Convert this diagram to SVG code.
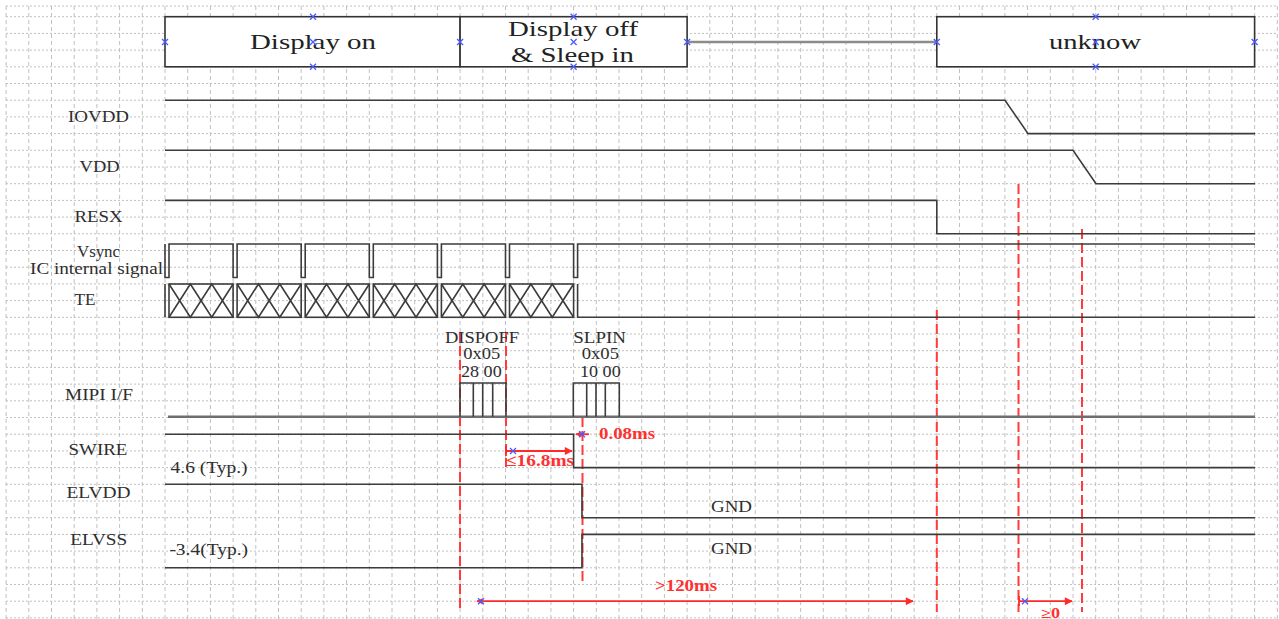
<svg xmlns="http://www.w3.org/2000/svg" xmlns:xlink="http://www.w3.org/1999/xlink" width="1279" height="619" viewBox="0 0 1279 619">
<style>
.gh{fill:none;stroke:#c0c0c0;stroke-width:1;stroke-dasharray:2 2}
.gv{fill:none;stroke:#c0c0c0;stroke-width:1;stroke-dasharray:4 3}
.sig{fill:none;stroke:#3c3c3c;stroke-width:1.6}
.box{fill:#fff;stroke:#333;stroke-width:1.6}
.hd{font-family:"Liberation Serif","Times New Roman",serif;font-size:22px;fill:#222}
.lb{font-family:"Liberation Serif","Times New Roman",serif;font-size:16px;fill:#2e2e2e}
.rt{font-family:"Liberation Serif","Times New Roman",serif;font-size:16px;font-weight:bold;fill:#ff3030}
.rd{fill:none;stroke:#ff3b3b;stroke-width:2;stroke-dasharray:10 4}
.ra{fill:none;stroke:#ff2a2a;stroke-width:1.8}
.bx{fill:none;stroke:#4a5cff;stroke-width:1.3}
</style>
<defs>
<path id="bx" class="bx" d="M-3,-3L3,3M-3,3L3,-3"/>
<g id="tecell">
<rect x="0" y="0" width="64.1" height="33.3" class="sig"/>
<path class="sig" d="M0,0L21.37,33.3L42.73,0L64.1,33.3M0,33.3L21.37,0L42.73,33.3L64.1,0"/>
</g>
<marker id="ah" viewBox="0 0 10 10" refX="9" refY="5" markerWidth="10" markerHeight="8" markerUnits="userSpaceOnUse" orient="auto">
<path d="M0,0L10,5L0,10z" fill="#ff2a2a"/>
</marker>
<marker id="ahs" viewBox="0 0 10 10" refX="1" refY="5" markerWidth="7" markerHeight="6" markerUnits="userSpaceOnUse" orient="auto">
<path d="M10,0L0,5L10,10z" fill="#ff2a2a"/>
</marker>
</defs>
<rect width="1279" height="619" fill="#fff"/>
<g id="grid">
<path class="gh" d="M6 6H1277M6 16.7H1277M6 33.4H1277M6 50.1H1277M6 66.8H1277M6 83.5H1277M6 100.2H1277M6 116.9H1277M6 133.6H1277M6 150.3H1277M6 167H1277M6 183.7H1277M6 200.4H1277M6 217.1H1277M6 233.8H1277M6 250.5H1277M6 267.2H1277M6 283.9H1277M6 300.6H1277M6 317.3H1277M6 334H1277M6 350.7H1277M6 367.4H1277M6 384.1H1277M6 400.8H1277M6 417.5H1277M6 434.2H1277M6 450.9H1277M6 467.6H1277M6 484.3H1277M6 501H1277M6 517.7H1277M6 534.4H1277M6 551.1H1277M6 567.8H1277M6 584.5H1277M6 601.2H1277M6 617.9H1277"/>
<path class="gv" d="M6.1 6V619M28.8 6V619M51.5 6V619M74.2 6V619M96.9 6V619M119.6 6V619M142.3 6V619M165 6V619M187.7 6V619M210.4 6V619M233.1 6V619M255.8 6V619M278.5 6V619M301.2 6V619M323.9 6V619M346.6 6V619M369.3 6V619M392 6V619M414.7 6V619M437.4 6V619M460.1 6V619M482.8 6V619M505.5 6V619M528.2 6V619M550.9 6V619M573.6 6V619M596.3 6V619M619 6V619M641.7 6V619M664.4 6V619M687.1 6V619M709.8 6V619M732.5 6V619M755.2 6V619M777.9 6V619M800.6 6V619M823.3 6V619M846 6V619M868.7 6V619M891.4 6V619M914.1 6V619M936.8 6V619M959.5 6V619M982.2 6V619M1004.9 6V619M1027.6 6V619M1050.3 6V619M1073 6V619M1095.7 6V619M1118.4 6V619M1141.1 6V619M1163.8 6V619M1186.5 6V619M1209.2 6V619M1231.9 6V619M1254.6 6V619M1277.3 6V619"/>
</g>
<g id="connectors">
<path d="M687 42H936.8" fill="none" stroke="#8c8c8c" stroke-width="2.6"/>
<path class="rd" d="M460 332V612M506 332V467M582.5 417V584M936.8 310V612M1018.5 184V612M1082 229V612"/>
<path class="ra" d="M506 451H572" marker-end="url(#ah)"/>
<path class="ra" d="M506 446V456"/>
<path class="ra" d="M576 434.2H589" marker-start="url(#ahs)"/>
<path class="ra" d="M477 601.2H913" marker-start="url(#ahs)" marker-end="url(#ah)"/>
<path class="ra" d="M1019 601.2H1072" marker-end="url(#ah)"/>
<path class="ra" d="M1019 596V606"/>
<use href="#bx" x="513" y="451"/>
<use href="#bx" x="582" y="434.2"/>
<use href="#bx" x="481" y="601.2"/>
<use href="#bx" x="1025" y="601.2"/>
<text class="rt" x="506" y="466" textLength="68" lengthAdjust="spacingAndGlyphs">≤16.8ms</text>
<text class="rt" x="599" y="439" textLength="56" lengthAdjust="spacingAndGlyphs">0.08ms</text>
<text class="rt" x="655" y="591" textLength="62" lengthAdjust="spacingAndGlyphs">&gt;120ms</text>
<text class="rt" x="1041" y="618" style="font-size:14px" textLength="19" lengthAdjust="spacingAndGlyphs">≥0</text>
</g>
<g id="display-on">
<rect class="box" x="165" y="16.7" width="295.1" height="50.1"/>
<text class="hd" x="250" y="49" textLength="126" lengthAdjust="spacingAndGlyphs">Display on</text>
<use href="#bx" x="313" y="16.7"/><use href="#bx" x="165" y="42"/><use href="#bx" x="313" y="42"/><use href="#bx" x="313" y="66.8"/>
</g>
<g id="display-off">
<rect class="box" x="460.1" y="16.7" width="227" height="50.1"/>
<text class="hd" x="508" y="36" textLength="130" lengthAdjust="spacingAndGlyphs">Display off</text>
<text class="hd" x="511" y="62" textLength="123" lengthAdjust="spacingAndGlyphs">&amp; Sleep in</text>
<use href="#bx" x="573.6" y="16.7"/><use href="#bx" x="460.1" y="42"/><use href="#bx" x="573.6" y="42"/><use href="#bx" x="687.1" y="42"/><use href="#bx" x="573.6" y="66.8"/>
</g>
<g id="unknow">
<rect class="box" x="936.8" y="16.7" width="317.8" height="50.1"/>
<text class="hd" x="1049" y="49" textLength="92" lengthAdjust="spacingAndGlyphs">unknow</text>
<use href="#bx" x="1095.7" y="16.7"/><use href="#bx" x="936.8" y="42"/><use href="#bx" x="1095.7" y="42"/><use href="#bx" x="1254.6" y="42"/><use href="#bx" x="1095.7" y="66.8"/>
</g>
<g id="iovdd">
<text class="lb" x="68" y="122" textLength="61" lengthAdjust="spacingAndGlyphs">IOVDD</text>
<path class="sig" d="M165 100.2H1005L1028 133.6H1255"/>
</g>
<g id="vdd">
<text class="lb" x="79.6" y="172" textLength="40" lengthAdjust="spacingAndGlyphs">VDD</text>
<path class="sig" d="M165 150.3H1073L1096 183.7H1255"/>
</g>
<g id="resx">
<text class="lb" x="74.6" y="222" textLength="48" lengthAdjust="spacingAndGlyphs">RESX</text>
<path class="sig" d="M165 200.4H936.8V233.8H1255"/>
</g>
<g id="vsync">
<text class="lb" x="77" y="257" textLength="43" lengthAdjust="spacingAndGlyphs">Vsync</text>
<text class="lb" x="30" y="273.5" textLength="133" lengthAdjust="spacingAndGlyphs">IC internal signal</text>
<path class="sig" d="M165 244V277.5H169V244H233.1V277.5H237.1V244H301.2V277.5H305.2V244H369.3V277.5H373.3V244H437.4V277.5H441.4V244H505.5V277.5H509.5V244H573.6V277.5H577.6V244H1255"/>
</g>
<g id="te">
<text class="lb" x="74.6" y="305" textLength="21" lengthAdjust="spacingAndGlyphs">TE</text>
<path class="sig" d="M165 284V317.3"/>
<use href="#tecell" x="169" y="284"/>
<use href="#tecell" x="237.1" y="284"/>
<use href="#tecell" x="305.2" y="284"/>
<use href="#tecell" x="373.3" y="284"/>
<use href="#tecell" x="441.4" y="284"/>
<use href="#tecell" x="509.5" y="284"/>
<path class="sig" d="M577.6 284V317.3H1255"/>
</g>
<g id="mipi">
<text class="lb" x="65" y="400" textLength="68" lengthAdjust="spacingAndGlyphs">MIPI I/F</text>
<path d="M168 416.7H1255" fill="none" stroke="#6e6e6e" stroke-width="2.4"/>
<path class="sig" d="M460 416.7V383H506V416.7M473.3 383V416.7M482.7 383V416.7M492.7 383V416.7"/>
<path class="sig" d="M573.3 416.7V383H619.3V416.7M586.7 383V416.7M596 383V416.7M605.3 383V416.7"/>
<text class="lb" x="445" y="342.7" textLength="74" lengthAdjust="spacingAndGlyphs">DISPOFF</text>
<text class="lb" x="463.3" y="359.3" textLength="37" lengthAdjust="spacingAndGlyphs">0x05</text>
<text class="lb" x="461" y="376.7" textLength="40.7" lengthAdjust="spacingAndGlyphs">28 00</text>
<text class="lb" x="573.3" y="342.7" textLength="52.7" lengthAdjust="spacingAndGlyphs">SLPIN</text>
<text class="lb" x="581.7" y="359.3" textLength="37.3" lengthAdjust="spacingAndGlyphs">0x05</text>
<text class="lb" x="580" y="376.7" textLength="40.7" lengthAdjust="spacingAndGlyphs">10 00</text>
</g>
<g id="swire">
<text class="lb" x="68.6" y="455" textLength="58.7" lengthAdjust="spacingAndGlyphs">SWIRE</text>
<text class="lb" x="170.6" y="473" textLength="77" lengthAdjust="spacingAndGlyphs">4.6 (Typ.)</text>
<path class="sig" d="M165 434.2H573.6V467.6H1255"/>
</g>
<g id="elvdd">
<text class="lb" x="66.5" y="498" textLength="64" lengthAdjust="spacingAndGlyphs">ELVDD</text>
<text class="lb" x="711" y="511.7" textLength="41" lengthAdjust="spacingAndGlyphs">GND</text>
<path class="sig" d="M165 484.3H582V517.7H1255"/>
</g>
<g id="elvss">
<text class="lb" x="70.2" y="545" textLength="57" lengthAdjust="spacingAndGlyphs">ELVSS</text>
<text class="lb" x="169.4" y="555" textLength="78.6" lengthAdjust="spacingAndGlyphs">-3.4(Typ.)</text>
<text class="lb" x="711" y="554.3" textLength="41" lengthAdjust="spacingAndGlyphs">GND</text>
<path class="sig" d="M165 567.8H582V534.4H1255"/>
</g>
</svg>
